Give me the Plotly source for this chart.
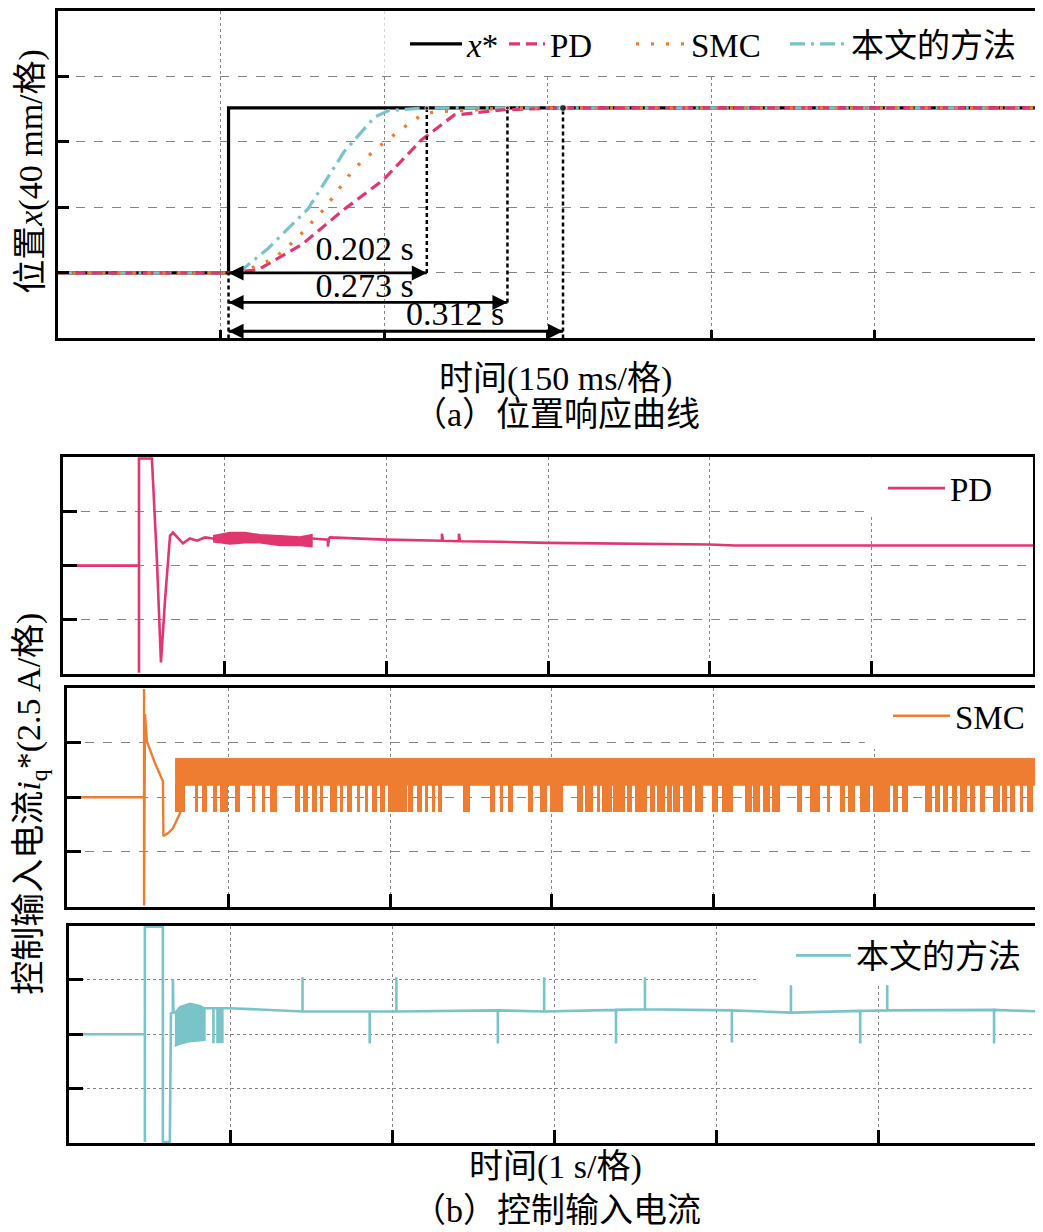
import plotly.graph_objects as go

# page has an 8px body margin, so the figure is drawn 8px in from the window's top-left corner
OFF = 8
W, H = 1043 - OFF, 1232 - OFF
FONT = "Liberation Serif, 'Noto Sans CJK SC', serif"

C_PD = "#E2366F"
C_SMC = "#EE7D31"
C_OUR = "#78C4C8"

# ---------------- (a) position response (t in s, x in divisions of 40 mm) ----------------
t_ref = [0.0, 0.157, 0.157, 0.9]
x_ref = [1.0, 1.0, 3.52, 3.52]

t_pd = [0.0, 0.157, 0.184, 0.224, 0.263, 0.299, 0.334, 0.364, 0.408, 0.464, 0.9]
x_pd = [1.0, 1.0, 1.05, 1.43, 1.97, 2.42, 3.03, 3.41, 3.49, 3.52, 3.52]

t_smc = [0.0, 0.157, 0.176, 0.199, 0.221, 0.245, 0.272, 0.295, 0.316, 0.334, 0.346, 0.413, 0.9]
x_smc = [1.0, 1.0, 1.06, 1.22, 1.55, 1.98, 2.59, 2.93, 3.20, 3.41, 3.46, 3.52, 3.52]

t_our = [0.0, 0.157, 0.171, 0.193, 0.230, 0.263, 0.291, 0.304, 0.339, 0.9]
x_our = [1.0, 1.0, 1.07, 1.37, 1.98, 2.85, 3.38, 3.48, 3.52, 3.52]

step_time = 0.157
settle_end = [0.339, 0.413, 0.464]
settle_labels = ["0.202 s", "0.273 s", "0.312 s"]
final_level = 3.52

# ---------------- (b) control current (t in s, i in divisions of 2.5 A) ----------------
t_pd_cur = [0, 0.470, 0.470, 0.470, 0.550, 0.581, 0.606, 0.631, 0.662, 0.680, 0.705, 0.742, 0.785,
            0.829, 0.878, 0.928, 1.540, 1.639, 1.639, 1.645, 1.651, 1.998, 2.344, 2.344, 2.350,
            2.449, 2.449, 2.455, 2.703, 2.999, 4.001, 4.156, 6.0]
i_pd_cur = [0, 0, -1.98, 1.98, 1.98, 0.09, -1.79, -0.64, 0.55, 0.61, 0.53, 0.41, 0.50,
            0.46, 0.52, 0.50, 0.50, 0.48, 0.35, 0.50, 0.52, 0.48, 0.46, 0.59, 0.46,
            0.45, 0.59, 0.45, 0.44, 0.42, 0.39, 0.37, 0.37]
t_pd_band = [0.928, 1.033, 1.126, 1.218, 1.342, 1.466, 1.540]
pd_band_hi = [0.55, 0.61, 0.61, 0.57, 0.55, 0.53, 0.57]
pd_band_lo = [0.44, 0.40, 0.42, 0.42, 0.37, 0.37, 0.35]

t_smc_cur = [0, 0.477, 0.477, 0.477, 0.483, 0.495, 0.545, 0.594, 0.597, 0.625, 0.656, 0.700, 0.724]
i_smc_cur = [0, 0, 1.98, -1.98, 1.52, 1.02, 0.62, 0.29, -0.71, -0.66, -0.57, -0.29, -0.07]
smc_band_t = [0.669, 6.0]
smc_band_hi = 0.71
smc_band_lo = 0.22
smc_spike_low = -0.26
smc_spike_start = [0.669, 0.793, 0.836, 0.904, 0.947, 1.040, 1.146, 1.207, 1.257, 1.412, 1.461, 1.517,
                   1.567, 1.628, 1.690, 1.734, 1.796, 1.845, 1.889, 1.938, 1.988, 2.111, 2.167, 2.217,
                   2.260, 2.297, 2.452, 2.619, 2.681, 2.731, 2.855, 2.929, 2.991, 3.158, 3.207, 3.282,
                   3.313, 3.381, 3.467, 3.517, 3.610, 3.653, 3.715, 3.752, 3.814, 3.889, 3.994, 4.056,
                   4.198, 4.248, 4.310, 4.365, 4.520, 4.601, 4.706, 4.786, 4.836, 4.910, 4.991, 5.115,
                   5.170, 5.313, 5.375, 5.424, 5.480, 5.529, 5.591, 5.653, 5.734, 5.790, 5.839, 5.901,
                   5.945]
smc_spike_end = [0.731, 0.811, 0.867, 0.929, 0.997, 1.071, 1.164, 1.226, 1.300, 1.443, 1.492, 1.548,
                 1.585, 1.672, 1.709, 1.765, 1.814, 1.864, 1.920, 1.969, 2.105, 2.142, 2.198, 2.235,
                 2.279, 2.322, 2.495, 2.650, 2.700, 2.762, 2.885, 2.972, 3.071, 3.195, 3.257, 3.300,
                 3.375, 3.455, 3.498, 3.591, 3.641, 3.703, 3.746, 3.796, 3.870, 3.938, 4.031, 4.124,
                 4.241, 4.291, 4.353, 4.415, 4.551, 4.663, 4.724, 4.817, 4.879, 4.972, 5.096, 5.146,
                 5.207, 5.356, 5.406, 5.455, 5.511, 5.573, 5.622, 5.684, 5.777, 5.820, 5.870, 5.920,
                 5.982]

t_our_cur = [0, 0.469, 0.469, 0.469, 0.580, 0.580, 0.623, 0.630, 0.642, 0.642, 0.645, 0.654, 0.840, 0.994,
             1.443, 1.443, 1.443, 1.858, 1.858, 1.858, 2.023, 2.023, 2.023, 2.650, 2.650, 2.650,
             2.936, 2.936, 2.936, 3.380, 3.380, 3.380, 3.559, 3.559, 3.559, 4.096, 4.096, 4.096,
             4.461, 4.461, 4.461, 4.889, 4.889, 4.889, 5.056, 5.056, 5.056, 5.716, 5.716, 5.716, 6.0]
i_our_cur = [0, 0, -1.98, 1.98, 1.98, -1.98, -1.98, 0.385, 0.40, 1.01, 0.40, 0.40, 0.48, 0.48,
             0.42, 1.05, 0.42, 0.42, -0.17, 0.42, 0.42, 1.05, 0.42, 0.44, -0.17, 0.44,
             0.42, 1.05, 0.42, 0.45, -0.17, 0.45, 0.46, 1.05, 0.46, 0.44, -0.15, 0.44,
             0.40, 0.90, 0.40, 0.43, -0.17, 0.43, 0.44, 0.90, 0.44, 0.45, -0.17, 0.45, 0.42]
t_our_band = [0.654, 0.685, 0.747, 0.809, 0.840]
our_band_hi = [0.40, 0.51, 0.57, 0.53, 0.48]
our_band_lo = [-0.22, -0.18, -0.13, -0.12, -0.11]
t_our_blk = [0.889, 0.896, 0.914, 0.951]  # two short chattering blocks (start, end pairs)
our_blk_hi = 0.48
our_blk_lo = -0.15


# ---------------- helpers: reference-pixel -> paper ----------------
def px(xp):
    return (xp - OFF) / W


def py(yp):
    return 1 - (yp - OFF) / H


fig = go.Figure()

# ---------------- (a) traces ----------------
fig.add_trace(go.Scatter(x=t_ref, y=x_ref, mode="lines", name="<i>x</i>*",
                         line=dict(color="black", width=3.2), legend="legend"))
fig.add_trace(go.Scatter(x=t_our, y=x_our, mode="lines", name="本文的方法",
                         line=dict(color=C_OUR, width=3.2, dash="15px,6px,3px,6px"), legend="legend7"))
fig.add_trace(go.Scatter(x=t_pd, y=x_pd, mode="lines", name="PD",
                         line=dict(color=C_PD, width=3.2, dash="11px,6px"), legend="legend5"))
fig.add_trace(go.Scatter(x=t_smc, y=x_smc, mode="lines", name="SMC",
                         line=dict(color=C_SMC, width=3.4, dash="3px,12px"), legend="legend6"))

arrow_levels = [1.0, 0.55, 0.11]
vline_bottoms = [1.0, 0.55, 0.0]
for te, vb in zip(settle_end, vline_bottoms):
    fig.add_trace(go.Scatter(x=[te, te], y=[vb, final_level], mode="lines", showlegend=False,
                             line=dict(color="black", width=2.5, dash="4px,3px"), hoverinfo="skip"))
fig.add_trace(go.Scatter(x=[step_time, step_time], y=[0, 1.0], mode="lines", showlegend=False,
                         line=dict(color="black", width=2.5, dash="4px,3px"), hoverinfo="skip"))
fig.add_trace(go.Scatter(x=settle_end, y=[final_level] * 3, mode="markers", showlegend=False,
                         marker=dict(color="black", size=[4, 4, 7])))

# double-headed duration arrows + labels
label_pos = [(0.282, 1.33), (0.282, 0.76), (0.365, 0.34)]
for te, lv, lab, (lx, ly) in zip(settle_end, arrow_levels, settle_labels, label_pos):
    fig.add_trace(go.Scatter(x=[step_time, te], y=[lv, lv], mode="lines+markers", showlegend=False,
                             line=dict(color="black", width=2.8),
                             marker=dict(symbol=["arrow-left", "arrow-right"], size=15, color="black",
                                         line=dict(width=0)),
                             hoverinfo="skip"))
    fig.add_trace(go.Scatter(x=[lx], y=[ly], mode="text", text=[lab], showlegend=False,
                             textfont=dict(family=FONT, size=34, color="black"), hoverinfo="skip"))

# ---------------- (b) PD ----------------
fig.add_trace(go.Scatter(x=t_pd_band + t_pd_band[::-1], y=pd_band_hi + pd_band_lo[::-1],
                         fill="toself", fillcolor=C_PD, mode="lines", line=dict(color=C_PD, width=1.5),
                         showlegend=False, xaxis="x2", yaxis="y2", hoverinfo="skip"))
fig.add_trace(go.Scatter(x=t_pd_cur, y=i_pd_cur, mode="lines", name="PD",
                         line=dict(color=C_PD, width=2.6), xaxis="x2", yaxis="y2", legend="legend2"))

# ---------------- (b) SMC ----------------
fig.add_trace(go.Scatter(x=[smc_band_t[0], smc_band_t[1], smc_band_t[1], smc_band_t[0]],
                         y=[smc_band_hi, smc_band_hi, smc_band_lo, smc_band_lo],
                         fill="toself", fillcolor=C_SMC, mode="lines", line=dict(color=C_SMC, width=1),
                         showlegend=False, xaxis="x3", yaxis="y3", hoverinfo="skip"))
fig.add_trace(go.Bar(x=[(s + e) / 2 for s, e in zip(smc_spike_start, smc_spike_end)],
                     y=[smc_band_lo + 0.03 - smc_spike_low] * len(smc_spike_start),
                     base=smc_spike_low,
                     width=[e - s for s, e in zip(smc_spike_start, smc_spike_end)],
                     marker=dict(color=C_SMC, line=dict(width=0)), showlegend=False,
                     xaxis="x3", yaxis="y3", hoverinfo="skip"))
fig.add_trace(go.Scatter(x=t_smc_cur, y=i_smc_cur, mode="lines", name="SMC",
                         line=dict(color=C_SMC, width=2.4), xaxis="x3", yaxis="y3", legend="legend3"))

# ---------------- (b) ours ----------------
blk_x, blk_y = [], []
for k in range(0, len(t_our_blk), 2):
    a, b = t_our_blk[k], t_our_blk[k + 1]
    blk_x += [a, b, b, a, a, None]
    blk_y += [our_blk_hi, our_blk_hi, our_blk_lo, our_blk_lo, our_blk_hi, None]
fig.add_trace(go.Scatter(x=t_our_band + t_our_band[::-1] + [None] + blk_x,
                         y=our_band_hi + our_band_lo[::-1] + [None] + blk_y,
                         fill="toself", fillcolor=C_OUR, mode="lines", line=dict(color=C_OUR, width=1.5),
                         showlegend=False, xaxis="x4", yaxis="y4", hoverinfo="skip"))
fig.add_trace(go.Scatter(x=t_our_cur, y=i_our_cur, mode="lines", name="本文的方法",
                         line=dict(color=C_OUR, width=2.6), xaxis="x4", yaxis="y4", legend="legend4"))

# ---------------- axes ----------------
common = dict(showline=True, linecolor="black", linewidth=2.8, mirror=True, ticks="inside",
              tickcolor="black", tickwidth=2.6, showticklabels=False, showgrid=True,
              gridcolor="#858585", gridwidth=1, zeroline=False, layer="above traces")

panels = [
    # (left, right, top, bottom) in reference pixels, xrange, dtick, yrange
    ((57.5, 1038, 9, 337), [0, 0.9], 0.15, [0, 5]),
    ((63, 1033, 456, 673), [0, 6], 1, [-2, 2]),
    ((67, 1036, 687, 906), [0, 6], 1, [-2, 2]),
    ((69, 1040, 925, 1143), [0, 6], 1, [-2, 2]),
]
layout_axes = {}
for k, ((l, r, t, b), xr, dt, yr) in enumerate(panels, start=1):
    sx = "" if k == 1 else str(k)
    layout_axes["xaxis" + sx] = dict(common, domain=[px(l), min(1.0, px(r))], range=xr, dtick=dt,
                                     tick0=0, griddash="dot", ticklen=9 if k == 1 else 13,
                                     anchor="y" + sx)
    layout_axes["yaxis" + sx] = dict(common, domain=[py(b), py(t)], range=yr, dtick=1, tick0=0,
                                     griddash="dash" if k < 4 else "dot",
                                     ticklen=12 if k == 1 else 14, anchor="x" + sx)
fig.update_layout(**layout_axes)

# ---------------- titles / captions ----------------
title_font = dict(family=FONT, size=34, color="black")
xt_font = dict(family=FONT, size=34, color="black")
cap_font = dict(family=FONT, size=34, color="black")
ann = [
    dict(x=px(31), y=py(170), xref="paper", yref="paper", text="位置<i>x</i>(40 mm/格)",
         textangle=-90, showarrow=False, font=title_font, xanchor="center", yanchor="middle"),
    dict(x=px(555), y=py(378), xref="paper", yref="paper", text="时间(150 ms/格)",
         showarrow=False, font=xt_font, xanchor="center", yanchor="middle"),
    dict(x=px(556), y=py(413), xref="paper", yref="paper", text="（a）位置响应曲线",
         showarrow=False, font=cap_font, xanchor="center", yanchor="middle"),
    dict(x=px(31), y=py(803), xref="paper", yref="paper",
         text="控制输入电流<i>i</i><sub>q</sub>*(2.5 A/格)",
         textangle=-90, showarrow=False, font=title_font, xanchor="center", yanchor="middle"),
    dict(x=px(555), y=py(1167), xref="paper", yref="paper", text="时间(1 s/格)",
         showarrow=False, font=xt_font, xanchor="center", yanchor="middle"),
    dict(x=px(556), y=py(1210), xref="paper", yref="paper", text="（b）控制输入电流",
         showarrow=False, font=cap_font, xanchor="center", yanchor="middle"),
]

# white legend boxes hiding the grid (data coords of each panel)
box = dict(type="rect", fillcolor="white", line=dict(width=0), layer="between")
shapes = [
    dict(box, xref="x", yref="y", x0=0.30, x1=0.9, y0=4.03, y1=5),
    dict(box, xref="x2", yref="y2", x0=4.97, x1=6, y0=0.92, y1=2),
    dict(box, xref="x3", yref="y3", x0=4.94, x1=6, y0=0.88, y1=2),
    dict(box, xref="x4", yref="y4", x0=4.25, x1=6, y0=0.90, y1=2),
]

leg_font = dict(family=FONT, size=33, color="black")


def leg(xr, yc, iw):
    return dict(x=px(xr), xanchor="right", y=py(yc), yanchor="middle", bgcolor="rgba(0,0,0,0)",
                font=leg_font, itemwidth=iw)


fig.update_layout(
    width=W, height=H, margin=dict(l=0, r=0, t=0, b=0),
    paper_bgcolor="white", plot_bgcolor="white",
    font=dict(family=FONT, color="black"),
    barmode="overlay", bargap=0,
    annotations=ann, shapes=shapes,
    legend=leg(505, 42, 52),
    legend5=leg(598, 42, 36),
    legend6=leg(766, 42, 50),
    legend7=leg(1021, 42, 56),
    legend2=leg(998, 487, 57),
    legend3=leg(1030, 715, 57),
    legend4=leg(1026, 955, 55),
)

fig.write_html("out.html")
